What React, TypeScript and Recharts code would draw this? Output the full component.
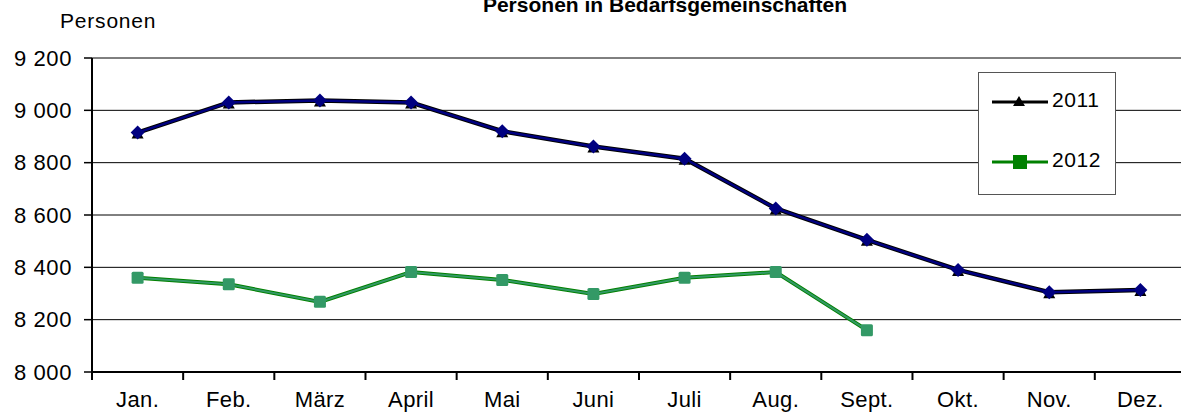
import React from "react";
import { LineChart, Line, XAxis, YAxis, CartesianGrid } from "recharts";

const months = ["Jan.", "Feb.", "März", "April", "Mai", "Juni", "Juli", "Aug.", "Sept.", "Okt.", "Nov.", "Dez."];
const values2011 = [8915, 9030, 9038, 9030, 8920, 8862, 8815, 8625, 8505, 8390, 8305, 8313];
const values2012 = [8360, 8335, 8268, 8382, 8352, 8298, 8360, 8382, 8160];
const yTicks = [8000, 8200, 8400, 8600, 8800, 9000, 9200];

const data = months.map((m, i) => ({
  month: m,
  y2011: values2011[i],
  y2012: i < values2012.length ? values2012[i] : null,
}));

const FONT = "'Liberation Sans', Arial, sans-serif";
const BAND = 91.2;

const fmt = (v: number) => {
  const s = String(v);
  return s.length > 3 ? s.slice(0, s.length - 3) + " " + s.slice(-3) : s;
};

const Triangle = (props: any) => {
  const { cx, cy, index } = props;
  if (cx == null || cy == null) return <g key={index} />;
  return (
    <polygon
      key={index}
      points={`${cx},${cy - 5} ${cx - 6},${cy + 6} ${cx + 6},${cy + 6}`}
      fill="#000"
    />
  );
};

const Diamond = (props: any) => {
  const { cx, cy, index } = props;
  if (cx == null || cy == null) return <g key={index} />;
  return (
    <polygon
      key={index}
      points={`${cx},${cy - 7} ${cx + 7},${cy} ${cx},${cy + 7} ${cx - 7},${cy}`}
      fill="#000080"
    />
  );
};

const Square = (props: any) => {
  const { cx, cy, index } = props;
  if (cx == null || cy == null) return <g key={index} />;
  return <rect key={index} x={cx - 6} y={cy - 6} width={12} height={12} rx={1.5} fill="#339966" />;
};

const MonthTick = (props: any) => {
  const { x, y, payload, index } = props;
  const last = index === months.length - 1;
  return (
    <g>
      <line x1={x - BAND / 2} y1={y - 8} x2={x - BAND / 2} y2={y} stroke="#000" strokeWidth={2} />
      {last && <line x1={x + BAND / 2} y1={y - 8} x2={x + BAND / 2} y2={y} stroke="#000" strokeWidth={2} />}
      <text x={x} y={y + 27} textAnchor="middle" fontSize={22} letterSpacing={0.4} fontFamily={FONT} fill="#000">
        {payload.value}
      </text>
    </g>
  );
};

const LegendBox = () => (
  <div
    style={{
      position: "absolute",
      left: 978,
      top: 72,
      width: 138,
      height: 123,
      border: "1px solid #555",
      background: "#fff",
      boxSizing: "border-box",
      fontFamily: FONT,
      fontSize: 21,
      letterSpacing: 0.6,
    }}
  >
    <svg width={60} height={20} style={{ position: "absolute", left: 11, top: 19 }}>
      <line x1={2} y1={10} x2={58} y2={10} stroke="#000" strokeWidth={3} />
      <polygon points="29,4 23,14 35,14" fill="#000" />
    </svg>
    <span style={{ position: "absolute", left: 73, top: 15 }}>2011</span>
    <svg width={60} height={20} style={{ position: "absolute", left: 11, top: 79 }}>
      <line x1={2} y1={10} x2={58} y2={10} stroke="#008000" strokeWidth={3} />
      <rect x={23} y={3} width={14} height={14} fill="#008000" />
    </svg>
    <span style={{ position: "absolute", left: 73, top: 75 }}>2012</span>
  </div>
);

export default function App() {
  return (
    <div style={{ position: "absolute", left: 0, top: 0, width: 1181, height: 418, background: "#fff", overflow: "hidden" }}>
      <div
        style={{
          position: "absolute",
          left: 0,
          width: 1330,
          top: -7,
          textAlign: "center",
          fontFamily: FONT,
          fontWeight: "bold",
          fontSize: 21,
        }}
      >
        Personen in Bedarfsgemeinschaften
      </div>
      <div style={{ position: "absolute", left: 60, top: 9, fontFamily: FONT, fontSize: 21, letterSpacing: 0.8 }}>
        Personen
      </div>
      <LineChart
        width={1181}
        height={418}
        data={data}
        margin={{ top: 58, right: -5, bottom: 0, left: 0 }}
      >
        <CartesianGrid vertical={false} stroke="#000" strokeWidth={1} />
        <XAxis
          dataKey="month"
          interval={0}
          padding={{ left: BAND / 2, right: BAND / 2 }}
          height={46}
          axisLine={{ stroke: "#000", strokeWidth: 2 }}
          tickLine={false}
          tick={<MonthTick />}
        />
        <YAxis
          domain={[8000, 9200]}
          ticks={yTicks}
          interval={0}
          width={92}
          tickSize={8}
          tickMargin={12}
          tickFormatter={fmt}
          axisLine={{ stroke: "#000", strokeWidth: 2 }}
          tickLine={{ stroke: "#000", strokeWidth: 1.5 }}
          tick={{ fill: "#000", fontSize: 22, fontFamily: FONT, letterSpacing: 0.6 }}
        />
        <Line dataKey="y2011" stroke="#000" strokeWidth={4.5} dot={<Triangle />} activeDot={false} isAnimationActive={false} />
        <Line dataKey="y2011" stroke="#000080" strokeWidth={2.5} dot={<Diamond />} activeDot={false} isAnimationActive={false} />
        <Line dataKey="y2012" stroke="#008000" strokeWidth={4} dot={false} activeDot={false} connectNulls={false} isAnimationActive={false} />
        <Line dataKey="y2012" stroke="#339966" strokeWidth={2} dot={<Square />} activeDot={false} connectNulls={false} isAnimationActive={false} />
      </LineChart>
      <LegendBox />
    </div>
  );
}
